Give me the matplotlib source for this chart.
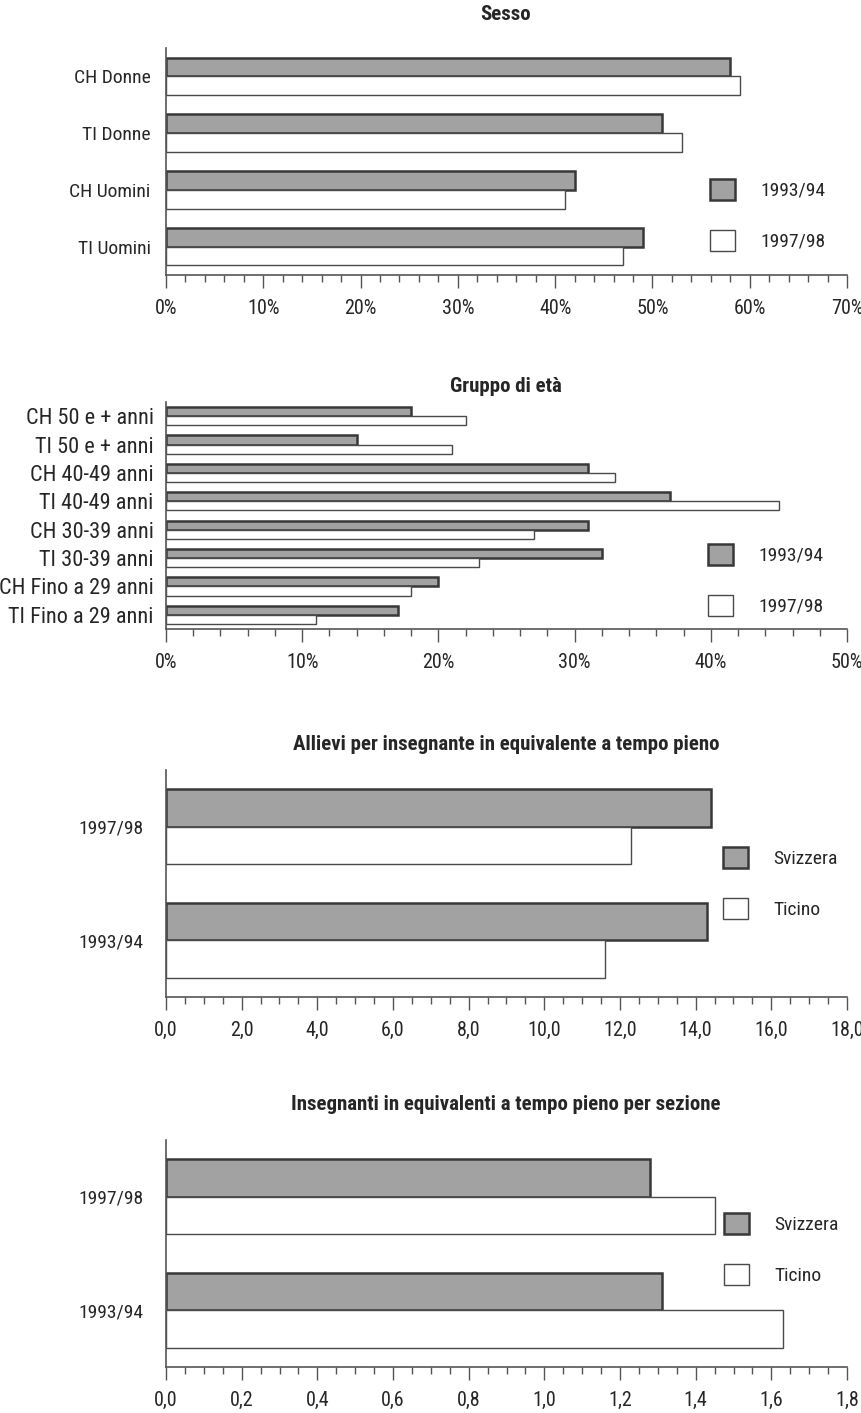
import matplotlib.pyplot as plt
from matplotlib import font_manager
from matplotlib.ticker import MultipleLocator, FuncFormatter

# pick a narrow sans if one is installed
fonts = font_manager.fontManager.ttflist
names = {f.name for f in fonts}
family = None
for cand in ['Liberation Sans Narrow', 'Roboto Condensed', 'Open Sans Condensed',
             'Noto Sans Condensed', 'Arial Narrow']:
    if cand in names:
        family = cand
        break
if family is None:
    if any(f.name == 'DejaVu Sans' and f.stretch == 'condensed' for f in fonts):
        family = 'DejaVu Sans'
        plt.rcParams['font.stretch'] = 'condensed'
    else:
        family = 'Roboto'
plt.rcParams['font.family'] = [family, 'DejaVu Sans']

# Sesso (bottom to top)
sesso_labels = ['TI Uomini', 'CH Uomini', 'TI Donne', 'CH Donne']
sesso_9394 = [49, 42, 51, 58]
sesso_9798 = [47, 41, 53, 59]

# Gruppo di eta (bottom to top)
eta_labels = ['TI Fino a 29 anni', 'CH Fino a 29 anni', 'TI 30-39 anni', 'CH 30-39 anni',
              'TI 40-49 anni', 'CH 40-49 anni', 'TI 50 e + anni', 'CH 50 e + anni']
eta_9394 = [17, 20, 32, 31, 37, 31, 14, 18]
eta_9798 = [11, 18, 23, 27, 45, 33, 21, 22]

# Anni scolastici (bottom to top)
anni = ['1993/94', '1997/98']
allievi_svizzera = [14.3, 14.4]
allievi_ticino = [11.6, 12.3]
insegnanti_svizzera = [1.31, 1.28]
insegnanti_ticino = [1.63, 1.45]

W, H = 862, 1413
fig = plt.figure(figsize=(W / 100, H / 100), dpi=100)

GRAY = '#a2a2a2'
DARK = '#383838'
TXT = '#262626'


def pct(v, pos):
    return f'{v:.0f}%'


def comma1(v, pos):
    return f'{v:.1f}'.replace('.', ',')


def panel(axis_y, labels, top_vals, bot_vals, xmax, major, minor, fmt,
          title, title_y, leg_labels, leg_x, leg_y, label_pad, label_size,
          leg_size=14, bh=0.33):
    ax = fig.add_axes([166 / W, 1 - axis_y / H, 681 / W, 227 / H])
    y = list(range(len(labels)))
    b1 = ax.barh([v + bh / 2 for v in y], top_vals, height=bh, color=GRAY,
                 edgecolor=DARK, linewidth=1.8)
    b2 = ax.barh([v - bh / 2 for v in y], bot_vals, height=bh, color='white',
                 edgecolor='#4a4a4a', linewidth=1.0)
    ax.set_xlim(0, xmax)
    ax.set_ylim(-0.5, len(labels) - 0.5)
    ax.set_yticks(y)
    ax.set_yticklabels(labels, fontsize=label_size, color=TXT)
    ax.tick_params(axis='y', length=0, pad=label_pad)
    ax.xaxis.set_major_locator(MultipleLocator(major))
    ax.xaxis.set_minor_locator(MultipleLocator(minor))
    ax.xaxis.set_major_formatter(FuncFormatter(fmt))
    ax.tick_params(axis='x', which='major', length=9.5, width=1.0, color='#555555',
                   labelsize=14.5, labelcolor=TXT, pad=8)
    ax.tick_params(axis='x', which='minor', length=5, width=1.0, color='#555555')
    for s in ['top', 'right']:
        ax.spines[s].set_visible(False)
    for s in ['left', 'bottom']:
        ax.spines[s].set_color('#555555')
        ax.spines[s].set_linewidth(1.2)
    fig.text(506 / W, 1 - title_y / H, title, ha='center', va='center',
             fontsize=15, fontweight='bold', color=TXT)
    ax.legend([b1, b2], leg_labels, loc='upper left',
              bbox_to_anchor=(leg_x / W, 1 - leg_y / H), bbox_transform=fig.transFigure,
              frameon=False, borderpad=0, borderaxespad=0, fontsize=leg_size,
              handlelength=1.3, handleheight=1.25, handletextpad=1.3,
              labelspacing=1.55, labelcolor=TXT)
    return ax


panel(275, sesso_labels, sesso_9394, sesso_9798, 70, 10, 2, pct,
      'Sesso', 15, ['1993/94', '1997/98'], 710, 179, 11, 14)
panel(629, eta_labels, eta_9394, eta_9798, 50, 10, 2, pct,
      'Gruppo di età', 386, ['1993/94', '1997/98'], 708, 544, 9, 16, bh=0.32)
panel(997, anni, allievi_svizzera, allievi_ticino, 18, 2, 0.5, comma1,
      'Allievi per insegnante in equivalente a tempo pieno', 745,
      ['Svizzera', 'Ticino'], 723, 847, 16, 14, leg_size=14)
panel(1367, anni, insegnanti_svizzera, insegnanti_ticino, 1.8, 0.2, 0.05, comma1,
      'Insegnanti in equivalenti a tempo pieno per sezione', 1104,
      ['Svizzera', 'Ticino'], 724, 1213, 16, 14, leg_size=14)

fig.savefig('out.png', dpi=100, facecolor='white')
